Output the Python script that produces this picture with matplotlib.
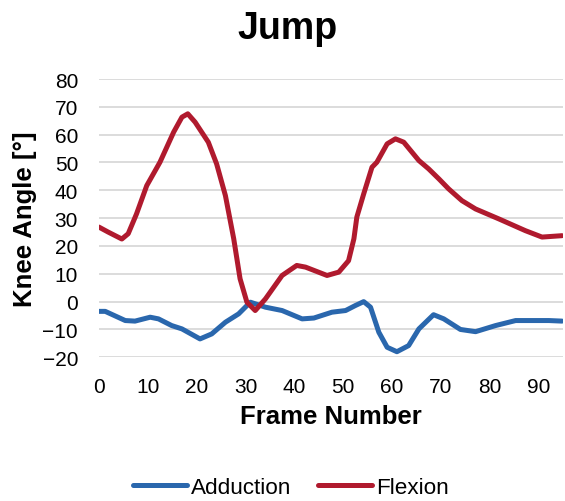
import matplotlib
matplotlib.use('Agg')
import matplotlib.pyplot as plt

# values
add_frame = [0, 1.3, 5.4, 7.4, 10.5, 12.2, 14.9, 17, 20.7, 23.1, 25.9, 28.6, 31, 34.1,
             37.5, 41.6, 44, 47.7, 50.5, 52.5, 54.2, 55.6, 57.3, 59, 61, 63.4, 65.5, 68.5,
             70.6, 74, 77.1, 81.2, 85.3, 92.1, 94.8]
add_angle = [-3.5, -3.5, -6.8, -7, -5.6, -6.2, -8.6, -9.8, -13.4, -11.6, -7.4, -4.4, -0.2, -2,
             -3.2, -6.2, -5.9, -3.8, -3.2, -1.4, 0, -2, -11, -16.4, -18, -15.8, -9.8, -4.7,
             -6.2, -10, -10.8, -8.6, -6.8, -6.8, -7]

flex_frame = [0, 1.9, 4.7, 6, 7.7, 9.8, 12.5, 15.3, 17, 18.2, 19.7, 22.4, 24.1, 25.9,
              27.6, 28.9, 30.3, 32, 34.1, 37.5, 40.5, 42.3, 46.7, 49.1, 51.1, 52.2, 52.8, 54.2,
              55.9, 56.9, 59, 60.7, 62.4, 65.5, 67.5, 69.6, 71.6, 74.3, 77.1, 81.9, 87.3, 90.7, 94.8]
flex_angle = [26.8, 25, 22.5, 24.4, 31.5, 41.7, 50.1, 60.9, 66.3, 67.5, 64.5, 57.3, 49.5, 38.1,
              22.6, 8.2, -0.2, -3.2, 1, 9.4, 13, 12.4, 9.4, 10.6, 14.7, 22.6, 30.4, 38.7,
              48.3, 50.1, 56.7, 58.5, 57.3, 50.7, 47.7, 44.1, 40.5, 36.3, 33.3, 29.7, 25.5, 23.2, 23.7]

plt.rcParams['font.family'] = ['Liberation Sans', 'DejaVu Sans']

fig = plt.figure(figsize=(5.65, 5.02), dpi=100)
ax = fig.add_axes([0.175, 0.2863, 0.8215, 0.5543])

ax.plot(add_frame, add_angle, color='#2A67AD', lw=3.6, solid_joinstyle='round',
        solid_capstyle='round', label='Adduction')
ax.plot(flex_frame, flex_angle, color='#B01A2E', lw=3.6, solid_joinstyle='round',
        solid_capstyle='round', label='Flexion')

ax.set_xlim(0, 95)
ax.set_ylim(-20, 80)
ax.set_xticks(range(0, 91, 10))
ax.set_yticks(range(-20, 81, 10))
ax.yaxis.grid(True, color='#D9D9D9', lw=1.3)
ax.set_axisbelow(True)
for s in ax.spines.values():
    s.set_visible(False)
ax.tick_params(length=0, labelsize=15)
ax.tick_params(axis='x', pad=14)
ax.tick_params(axis='y', pad=15)

ax.set_xlabel('Frame Number', fontsize=18.5, fontweight='bold', labelpad=6)
ax.set_ylabel('Knee Angle [°]', fontsize=18.5, fontweight='bold', labelpad=4)
fig.suptitle('Jump', fontsize=27, fontweight='bold', x=0.508, y=0.978)

fig.legend(loc='center', bbox_to_anchor=(0.515, 0.027), ncol=2, frameon=False,
           fontsize=16.2, handlelength=2.4, handletextpad=0.17, columnspacing=1.2,
           borderpad=0.1)

fig.savefig('out.png', dpi=100)
